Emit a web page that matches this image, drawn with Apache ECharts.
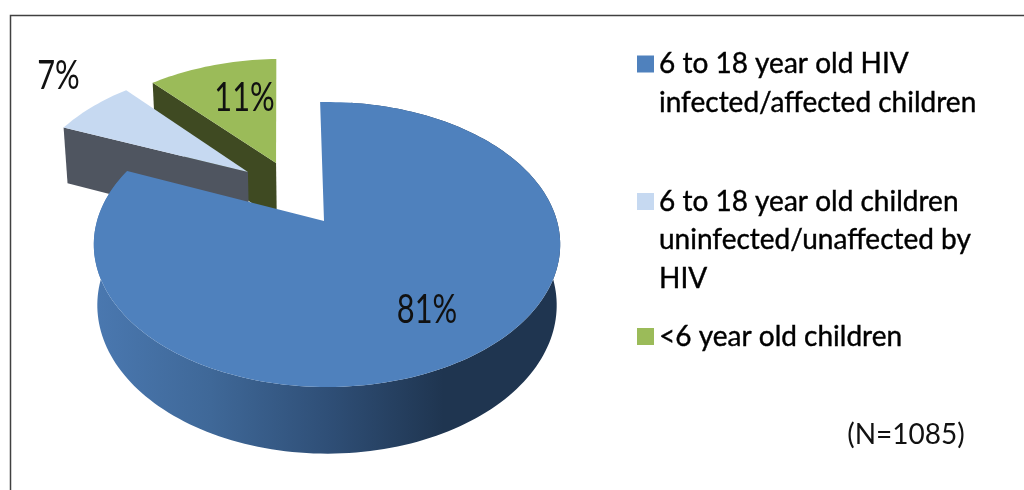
<!DOCTYPE html>
<html>
<head>
<meta charset="utf-8">
<style>html,body{margin:0;padding:0;background:#fff}#chart{width:1024px;height:490px}</style>
<script src="https://cdn.jsdelivr.net/npm/echarts@6/dist/echarts.min.js"></script>
</head>
<body>
<div id="chart"></div>
<script>
// Study population by group
const categories = [
  '6 to 18 year old HIV infected/affected children',
  '6 to 18 year old children uninfected/unaffected by HIV',
  '<6 year old children'
];
const wrappedNames = [
  '6 to 18 year old HIV\ninfected/affected children',
  '6 to 18 year old children\nuninfected/unaffected by\nHIV',
  '<6 year old children'
];
const values = [81, 7, 11];
const sampleNote = '(N=1085)';

// Per-slice styling: top face, wall, explode offsets (in disc radii), label anchor
const topColors = ['#4F81BD', '#C6D9F1', '#9BBB59'];
const wallColors = [null, '#4F5560', '#3F4A22'];
const apexOffset = [[-0.013, 0], [-0.365, 0.375], [-0.238, 0.45]];
const rimOffset = [[0, 0], [-0.365, 0.375], [-0.238, 0.45]];
const labelAt = [[427, 310], [58.5, 76], [244.5, 98]];
const legendSwatchMiddle = [64, 201.5, 336.5];

// Perspective disc projection
const CX = 327, CY = 221, B = 230, A = 138.6, K = 0.165, START = -2;
function project(u, v) {
  const d = 1 + K * v;
  return [CX + B * u / d, CY - A * v / d];
}
function drop(p) {
  return [CX + (p[0] - CX) * 0.985, p[1] + 50.4 + 0.042 * p[1]];
}

const total = values.reduce((a, b) => a + b, 0);
function sweep(i) {
  const before = values.slice(0, i).reduce((a, b) => a + b, 0);
  return [START + before / total * 360, START + (before + values[i]) / total * 360];
}
function arc(i) {
  const [a0, a1] = sweep(i);
  const n = Math.max(8, Math.round((a1 - a0) / 1.5));
  const pts = [];
  for (let s = 0; s <= n; s++) {
    const t = (a0 + (a1 - a0) * s / n) * Math.PI / 180;
    pts.push(project(rimOffset[i][0] + Math.sin(t), rimOffset[i][1] + Math.cos(t)));
  }
  return pts;
}

function renderSlice(i) {
  return function () {
    const apex = project(apexOffset[i][0], apexOffset[i][1]);
    const outer = arc(i);
    const children = [];
    if (i === 0) {
      // Outer rim with its shading; the top face hides the far part of it
      const rim = outer.slice(6);
      children.push({
        type: 'polygon',
        shape: { points: rim.concat(rim.map(drop).reverse()) },
        style: {
          fill: new echarts.graphic.LinearGradient(94, 0, 560, 0, [
            { offset: 0, color: '#4A78B0' },
            { offset: 0.25, color: '#3F6898' },
            { offset: 0.5, color: '#2F4F77' },
            { offset: 0.75, color: '#1F3550' },
            { offset: 1, color: '#1F3550' }
          ], true)
        }
      });
    } else {
      // Cut face running from the first arc point to the apex
      const tip = outer[0];
      children.push({
        type: 'polygon',
        shape: { points: [tip, apex, drop(apex), drop(tip)] },
        style: { fill: wallColors[i] }
      });
    }
    children.push({
      type: 'polygon',
      shape: { points: [apex].concat(outer) },
      style: { fill: topColors[i] }
    });
    children.push({
      type: 'text',
      x: labelAt[i][0],
      y: labelAt[i][1],
      originX: 0,
      scaleX: 0.77,
      style: {
        text: values[i] + '%',
        fill: '#111',
        font: '40px Lato',
        align: 'center',
        verticalAlign: 'middle'
      }
    });
    return { type: 'group', children: children };
  };
}

const series = categories.map((name, i) => ({
  type: 'custom',
  name: name,
  coordinateSystem: 'none',
  silent: true,
  animation: false,
  z: 2 + (values.length - i),
  itemStyle: { color: topColors[i] },
  data: [values[i]],
  renderItem: renderSlice(i)
}));

// One legend per group: the swatch sits beside the first line of a wrapped name
const lineHeight = 38.5;
const legends = categories.map((name, i) => {
  const lines = wrappedNames[i].split('\n').length;
  const blankAbove = lines - 1;
  return {
    left: 637,
    top: legendSwatchMiddle[i] - (lines + blankAbove) * lineHeight / 2,
    padding: 0,
    selectedMode: false,
    icon: 'rect',
    itemWidth: 17,
    itemHeight: 17,
    data: [name],
    formatter: () => '\n'.repeat(blankAbove) + wrappedNames[i],
    textStyle: {
      fontFamily: 'Lato',
      fontSize: 28,
      color: '#000',
      lineHeight: lineHeight,
      textBorderColor: '#000',
      textBorderWidth: 0.4
    }
  };
});

const chart = echarts.init(document.getElementById('chart'), null, { renderer: 'canvas' });
chart.setOption({
  animation: false,
  backgroundColor: '#ffffff',
  legend: legends,
  series: series,
  graphic: [
    { type: 'polyline', shape: { points: [[10.5, 490], [10.5, 15.5], [1024, 15.5]] },
      style: { stroke: '#404040', lineWidth: 1.5, fill: null } },
    { type: 'text', x: 906, y: 435, style: { text: sampleNote, font: '28px Lato', fill: '#111', align: 'center', verticalAlign: 'middle' } }
  ]
});
</script>
</body>
</html>
